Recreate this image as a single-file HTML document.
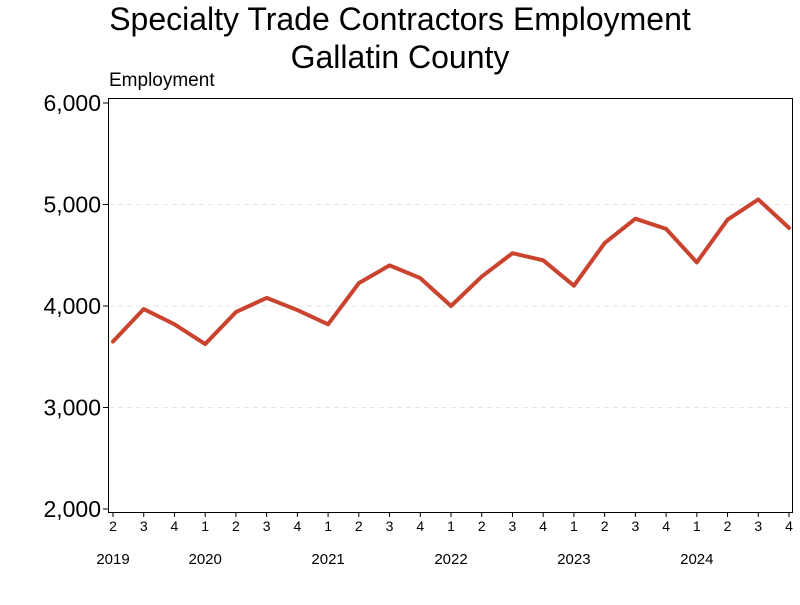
<!DOCTYPE html>
<html><head><meta charset="utf-8"><style>
body{margin:0;background:#fff;width:800px;height:600px;overflow:hidden;font-family:"Liberation Sans",sans-serif}
</style></head><body>
<svg id="chart" width="800" height="600" xmlns="http://www.w3.org/2000/svg" font-family="Liberation Sans, sans-serif">
<text x="400" y="30" font-size="32" text-anchor="middle">Specialty Trade Contractors Employment</text>
<text x="400" y="68" font-size="32" text-anchor="middle">Gallatin County</text>
<text x="109" y="86" font-size="19">Employment</text>
<g id="grid"></g>
<rect x="108.5" y="98.5" width="684" height="414" fill="none" stroke="#000" stroke-width="1"/>
<g id="yaxis"></g><g id="xaxis"></g><g id="series"></g>
</svg>
<script>
const quarters=["2","3","4","1","2","3","4","1","2","3","4","1","2","3","4","1","2","3","4","1","2","3","4"];
const years=["2019","2020","2021","2022","2023","2024"];
const yearPos=[0,3,7,11,15,19];
const values=[3650,3970,3820,3625,3940,4080,3960,3820,4225,4400,4275,4000,4290,4520,4450,4200,4620,4860,4760,4430,4850,5050,4770];
const yTicks=[2000,3000,4000,5000,6000];
const NS="http://www.w3.org/2000/svg";
const x0=113,x1=789,yTop=103,yBot=509;
function xs(i){return x0+(x1-x0)*i/(values.length-1);}
function ys(v){return yBot-(v-2000)/4000*(yBot-yTop);}
function mk(t,a,p){const e=document.createElementNS(NS,t);for(const k in a)e.setAttribute(k,a[k]);p.appendChild(e);return e;}
const grid=document.getElementById('grid'),ya=document.getElementById('yaxis'),xa=document.getElementById('xaxis'),se=document.getElementById('series');
yTicks.forEach(v=>{const y=ys(v);
 if(v>2000&&v<6000){const g=mk('line',{x1:109,x2:792,y1:y,y2:y,stroke:'#e4e4e4','stroke-dasharray':'5,4'},grid);
 
 }
 const tk=mk('line',{x1:103,x2:108,y1:y,y2:y,stroke:'#000'},ya);
 
 
 const t=mk('text',{x:101,y:y+8,'font-size':23,'text-anchor':'end'},ya);t.textContent=v.toLocaleString('en-US');
 
 });
quarters.forEach((q,i)=>{const x=xs(i);
 const tk=mk('line',{x1:x,x2:x,y1:512,y2:517,stroke:'#000'},xa);
 
 
 const t=mk('text',{x:x,y:531,'font-size':14,'text-anchor':'middle'},xa);t.textContent=q;
 
 });
years.forEach((yr,j)=>{const x=xs(yearPos[j]);
 const t=mk('text',{x:x,y:564,'font-size':15,'text-anchor':'middle'},xa);t.textContent=yr;
 
 });
const pts=values.map((v,i)=>xs(i)+','+ys(v)).join(' ');
const pl=mk('polyline',{points:pts,fill:'none',stroke:'#c9432e','stroke-width':4,'stroke-linejoin':'round','stroke-linecap':'round'},se);


</script>
</body></html>
